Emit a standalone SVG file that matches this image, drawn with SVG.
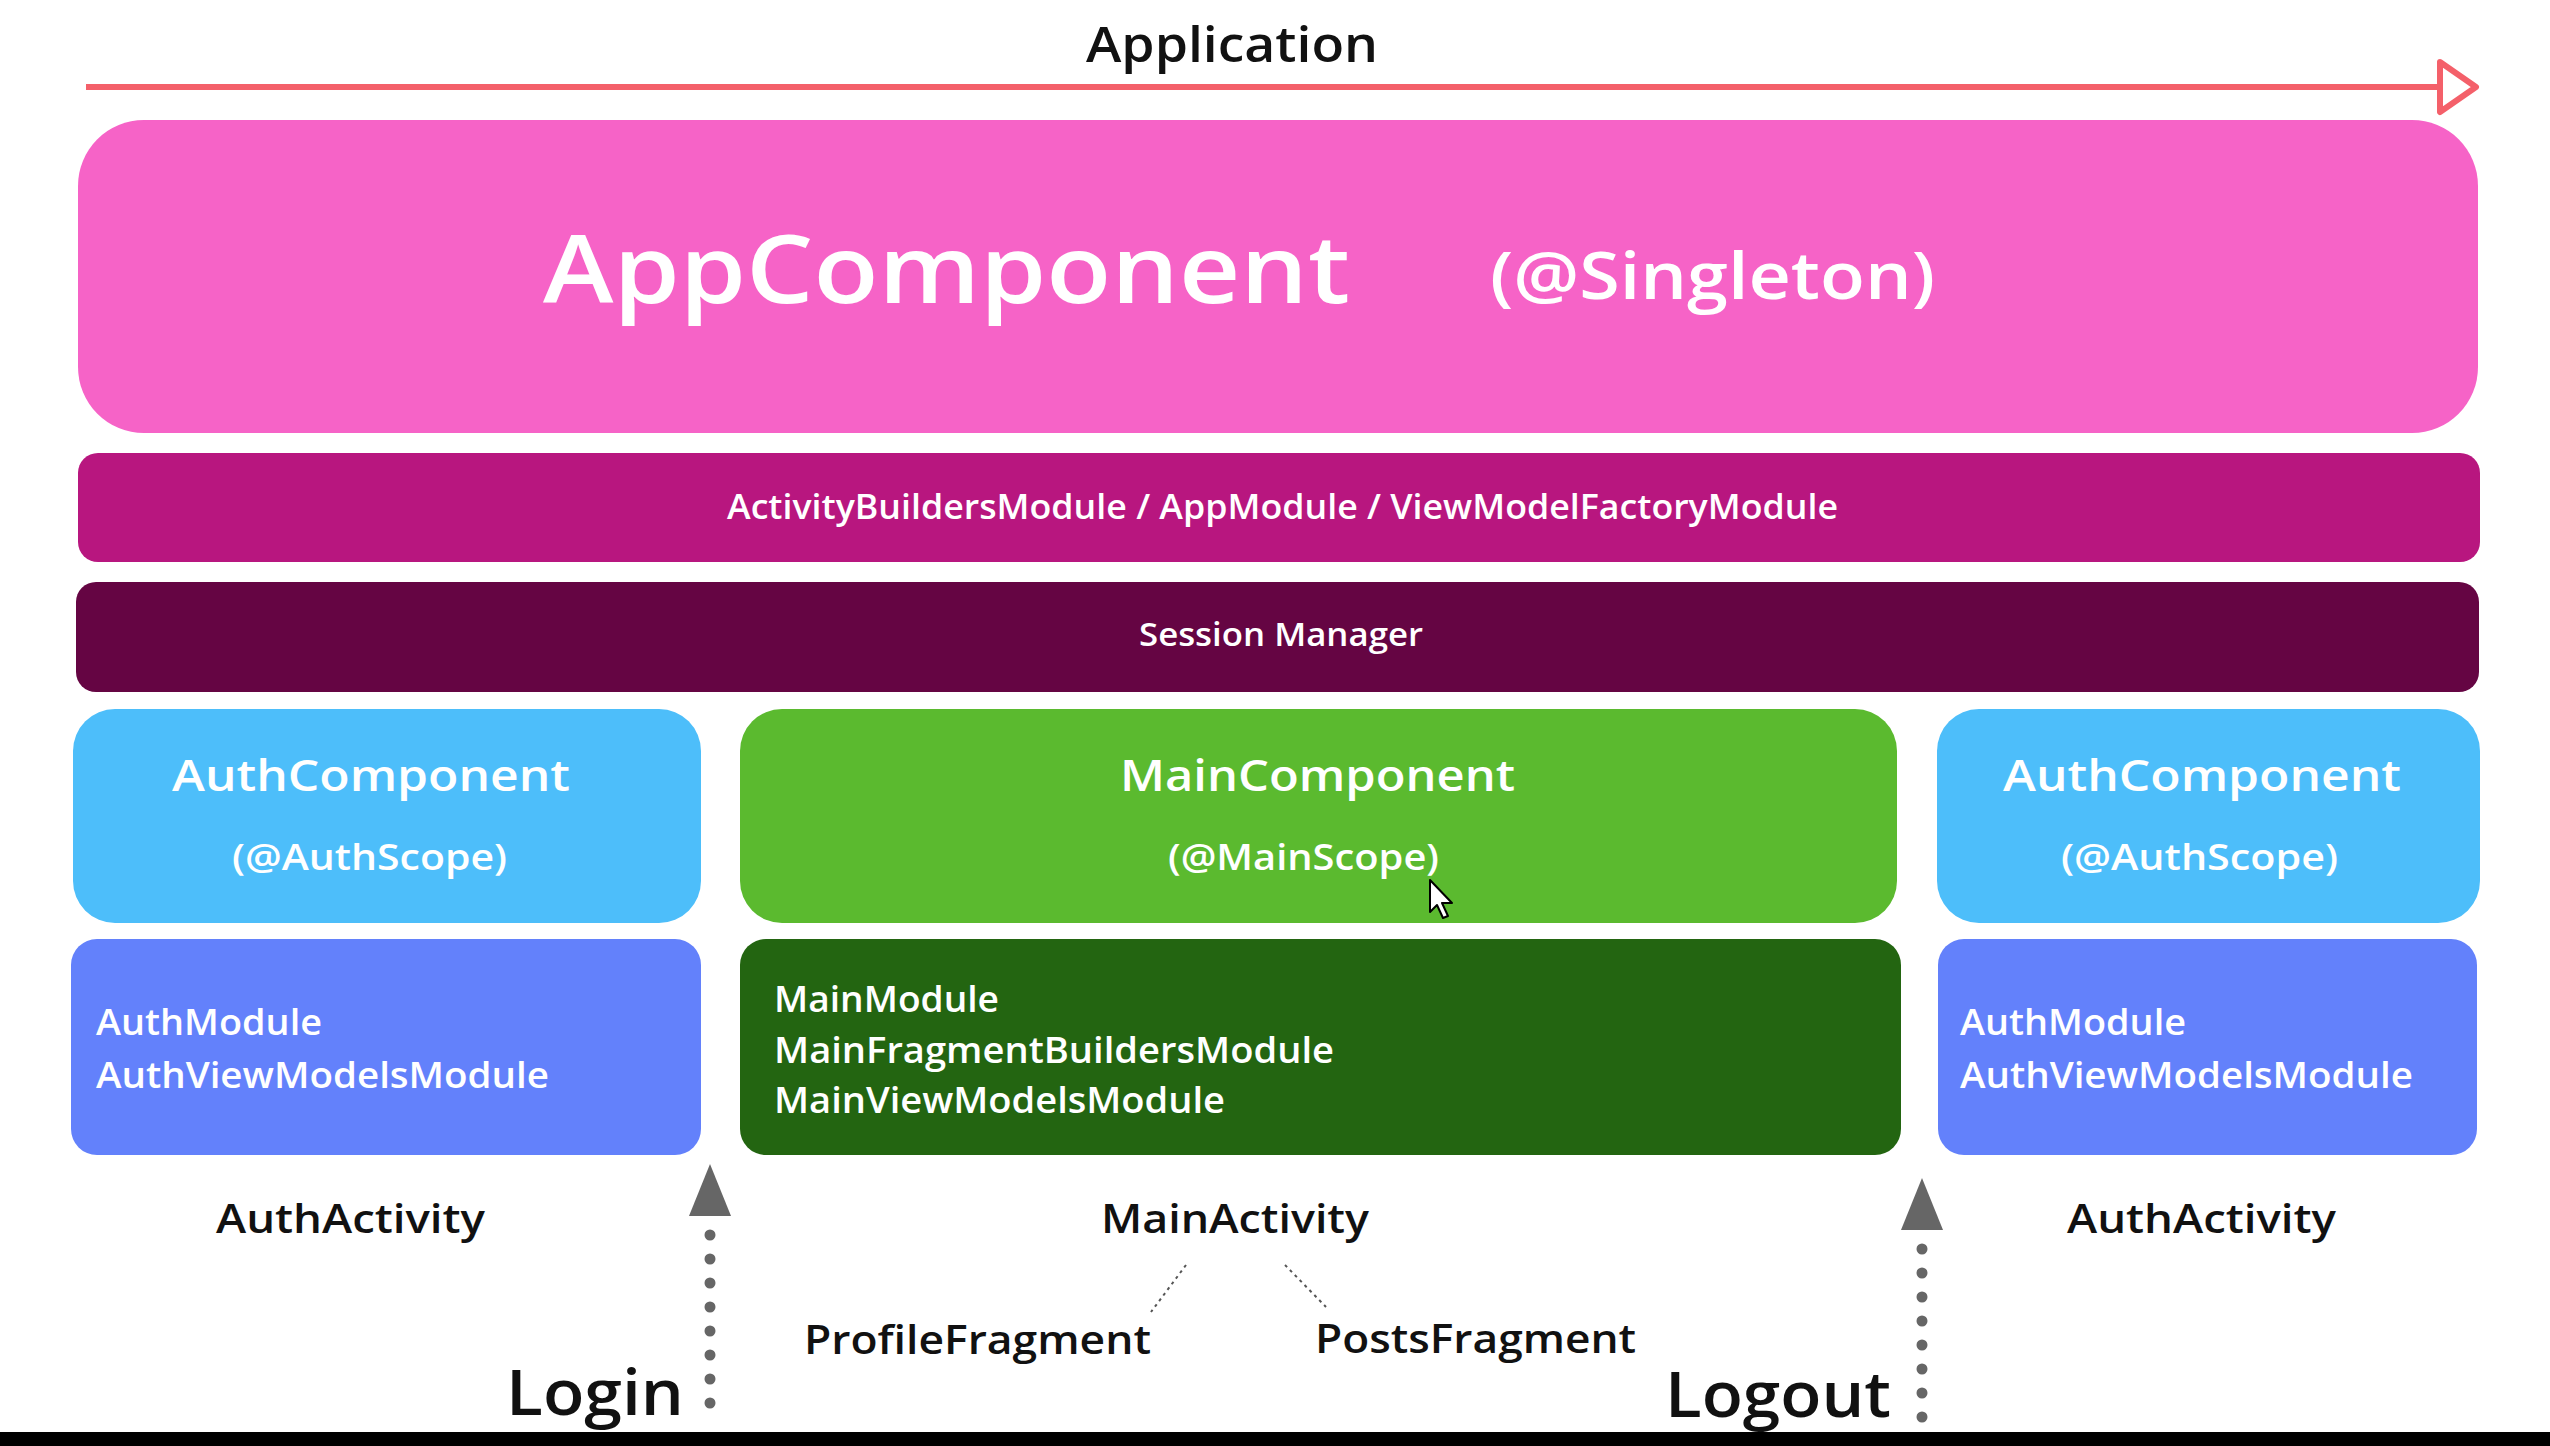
<svg xmlns="http://www.w3.org/2000/svg" width="2550" height="1446" viewBox="0 0 2550 1446">
<style>
  text { font-family: "Open Sans", "Lato", "Liberation Sans", sans-serif; }
  .w { fill: #ffffff; font-weight: 600; }
  .k { fill: #111111; font-weight: 600; }
  .dots { fill: none; stroke: #666666; stroke-width: 11; stroke-linecap: round; stroke-dasharray: 0 24; }
  .head { fill: #666666; }
  .thin { fill: none; stroke: #555555; stroke-width: 2; stroke-dasharray: 3 4; }
</style>
<rect x="0" y="0" width="2550" height="1446" fill="#ffffff"/>

<g id="application">
  <line x1="86" y1="87" x2="2440" y2="87" stroke="#f4606a" stroke-width="6"/>
  <polygon points="2440,62 2476,87 2440,112" fill="#ffffff" stroke="#f4606a" stroke-width="6" stroke-linejoin="round"/>
  <text class="k" x="1086" y="62" font-size="49" textLength="292" lengthAdjust="spacingAndGlyphs">Application</text>
</g>

<g id="app-component">
  <rect x="78" y="120" width="2400" height="313" rx="66" fill="#f663c7"/>
  <text class="w" x="543" y="303" font-size="95" textLength="807" lengthAdjust="spacingAndGlyphs">AppComponent</text>
  <text class="w" x="1490" y="299" font-size="66" textLength="445" lengthAdjust="spacingAndGlyphs">(@Singleton)</text>
</g>

<g id="app-modules">
  <rect x="78" y="453" width="2402" height="109" rx="20" fill="#b8167f"/>
  <text class="w" x="727" y="519" font-size="34" textLength="1111" lengthAdjust="spacingAndGlyphs">ActivityBuildersModule / AppModule / ViewModelFactoryModule</text>
</g>

<g id="session-manager">
  <rect x="76" y="582" width="2403" height="110" rx="20" fill="#650543"/>
  <text class="w" x="1139" y="646" font-size="32" textLength="284" lengthAdjust="spacingAndGlyphs">Session Manager</text>
</g>

<g id="auth-component-left">
  <rect x="73" y="709" width="628" height="214" rx="42" fill="#4dbefa"/>
  <text class="w" x="172" y="791" font-size="44" textLength="398" lengthAdjust="spacingAndGlyphs">AuthComponent</text>
  <text class="w" x="232" y="870" font-size="36" textLength="275" lengthAdjust="spacingAndGlyphs">(@AuthScope)</text>
</g>

<g id="main-component">
  <rect x="740" y="709" width="1157" height="214" rx="42" fill="#5bba2f"/>
  <text class="w" x="1120" y="791" font-size="44" textLength="395" lengthAdjust="spacingAndGlyphs">MainComponent</text>
  <text class="w" x="1168" y="870" font-size="36" textLength="271" lengthAdjust="spacingAndGlyphs">(@MainScope)</text>
</g>

<g id="auth-component-right">
  <rect x="1937" y="709" width="543" height="214" rx="42" fill="#4dbefa"/>
  <text class="w" x="2003" y="791" font-size="44" textLength="398" lengthAdjust="spacingAndGlyphs">AuthComponent</text>
  <text class="w" x="2061" y="870" font-size="36" textLength="277" lengthAdjust="spacingAndGlyphs">(@AuthScope)</text>
</g>

<g id="auth-modules-left">
  <rect x="71" y="939" width="630" height="216" rx="26" fill="#6381fb"/>
  <text class="w" x="96" y="1035" font-size="36" textLength="226" lengthAdjust="spacingAndGlyphs">AuthModule</text>
  <text class="w" x="96" y="1088" font-size="36" textLength="453" lengthAdjust="spacingAndGlyphs">AuthViewModelsModule</text>
</g>

<g id="main-modules">
  <rect x="740" y="939" width="1161" height="216" rx="26" fill="#236511"/>
  <text class="w" x="774" y="1012" font-size="36" textLength="225" lengthAdjust="spacingAndGlyphs">MainModule</text>
  <text class="w" x="774" y="1063" font-size="36" textLength="560" lengthAdjust="spacingAndGlyphs">MainFragmentBuildersModule</text>
  <text class="w" x="774" y="1113" font-size="36" textLength="451" lengthAdjust="spacingAndGlyphs">MainViewModelsModule</text>
</g>

<g id="auth-modules-right">
  <rect x="1938" y="939" width="539" height="216" rx="26" fill="#6381fb"/>
  <text class="w" x="1960" y="1035" font-size="36" textLength="226" lengthAdjust="spacingAndGlyphs">AuthModule</text>
  <text class="w" x="1960" y="1088" font-size="36" textLength="453" lengthAdjust="spacingAndGlyphs">AuthViewModelsModule</text>
</g>

<g id="auth-activity-left">
  <text class="k" x="216" y="1233" font-size="40" textLength="269" lengthAdjust="spacingAndGlyphs">AuthActivity</text>
</g>
<g id="main-activity">
  <text class="k" x="1101" y="1233" font-size="40" textLength="268" lengthAdjust="spacingAndGlyphs">MainActivity</text>
</g>
<g id="auth-activity-right">
  <text class="k" x="2067" y="1233" font-size="40" textLength="269" lengthAdjust="spacingAndGlyphs">AuthActivity</text>
</g>
<g id="profile-fragment">
  <text class="k" x="804" y="1354" font-size="40" textLength="347" lengthAdjust="spacingAndGlyphs">ProfileFragment</text>
</g>
<g id="posts-fragment">
  <text class="k" x="1315" y="1353" font-size="40" textLength="321" lengthAdjust="spacingAndGlyphs">PostsFragment</text>
</g>
<g id="login">
  <text class="k" x="506" y="1415" font-size="63" textLength="178" lengthAdjust="spacingAndGlyphs">Login</text>
</g>
<g id="logout">
  <text class="k" x="1665" y="1417" font-size="63" textLength="226" lengthAdjust="spacingAndGlyphs">Logout</text>
</g>

<g id="connectors">
  <line class="thin" x1="1186" y1="1265" x2="1151" y2="1312"/>
  <line class="thin" x1="1285" y1="1265" x2="1326" y2="1307"/>
  <line class="dots" x1="710" y1="1403" x2="710" y2="1232"/>
  <polygon class="head" points="710,1164 731,1216 689,1216"/>
  <line class="dots" x1="1922" y1="1417" x2="1922" y2="1248"/>
  <polygon class="head" points="1922,1178 1943,1230 1901,1230"/>
</g>

<g id="cursor">
  <polygon points="1430,880 1430,912 1437,905 1443,918 1448,916 1442,903 1452,903" fill="#ffffff" stroke="#000000" stroke-width="2" stroke-linejoin="round"/>
</g>

<rect x="0" y="1432" width="2550" height="14" fill="#000000"/>
</svg>
